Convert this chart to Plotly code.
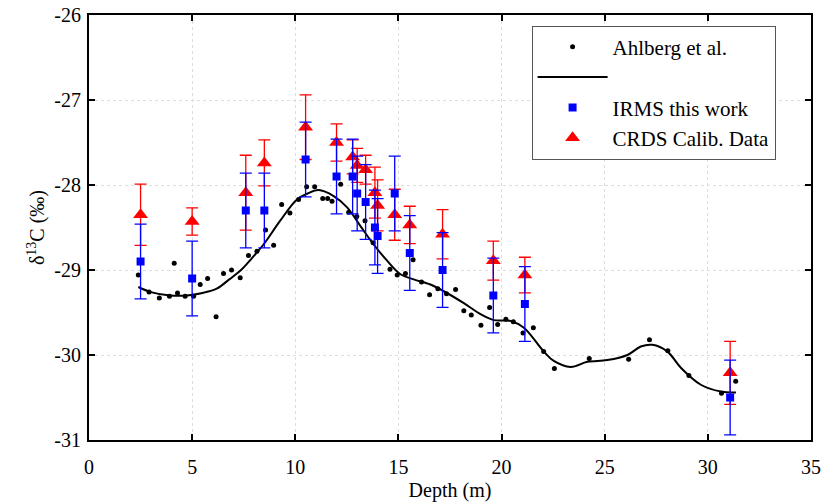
import plotly.graph_objects as go

# Ahlberg et al. data points
ahl_x = [2.39, 2.91, 3.41, 3.90, 4.13, 4.29, 4.66, 5.07, 5.39, 5.75, 6.16, 6.52, 6.91, 7.33, 7.73,
         8.14, 8.56, 8.95, 9.34, 9.74, 10.16, 10.55, 10.94, 11.33, 11.57, 11.78, 12.20, 12.59, 12.98,
         13.38, 13.77, 14.59, 14.94, 15.34, 15.71, 16.12, 16.51, 16.91, 17.33, 17.77, 18.17, 18.53,
         19.00, 19.42, 19.81, 20.21, 20.57, 21.04, 21.54, 22.04, 22.56, 24.25, 26.16, 27.17, 28.06,
         29.08, 30.66, 31.35]
ahl_y = [-29.06, -29.26, -29.33, -29.31, -28.92, -29.27, -29.31, -29.31, -29.17, -29.10, -29.55,
         -29.04, -29.00, -29.09, -28.83, -28.78, -28.53, -28.71, -28.23, -28.33, -28.17, -28.02,
         -28.02, -28.16, -28.16, -28.19, -27.99, -28.32, -28.37, -28.42, -28.68, -28.99, -29.06,
         -29.04, -28.88, -29.14, -29.29, -29.22, -29.28, -29.23, -29.48, -29.53, -29.65, -29.44,
         -29.64, -29.58, -29.61, -29.74, -29.68, -29.96, -30.16, -30.04, -30.05, -29.82, -29.95,
         -30.24, -30.45, -30.31]

# Smooth fit curve
fit_x = [2.39, 3.0, 3.93, 4.74, 5.5, 6.19, 6.8, 7.33, 7.9, 8.46, 9.27, 10.08, 10.6, 11.13, 11.86,
         12.5, 13.15, 13.8, 14.45, 15.1, 15.74, 16.55, 17.2, 18.17, 18.98, 19.63, 20.44, 21.08,
         22.05, 22.53, 23.35, 24.16, 25.13, 26.10, 26.75, 27.31, 28.04, 28.69, 29.66, 30.63, 31.36]
fit_y = [-29.20, -29.26, -29.30, -29.30, -29.27, -29.22, -29.11, -29.01, -28.86, -28.70, -28.42,
         -28.17, -28.10, -28.06, -28.13, -28.26, -28.48, -28.70, -28.89, -29.05, -29.11, -29.17,
         -29.25, -29.39, -29.52, -29.59, -29.60, -29.68, -29.96, -30.07, -30.14, -30.08, -30.06,
         -30.00, -29.90, -29.88, -29.96, -30.15, -30.35, -30.43, -30.44]

# IRMS this work
irms_x = [2.5, 5.0, 7.6, 8.5, 10.5, 12.0, 12.78, 13.0, 13.41, 13.86, 13.99, 14.82, 15.55, 17.14,
          19.6, 21.13, 31.08]
irms_y = [-28.90, -29.10, -28.30, -28.30, -27.70, -27.90, -27.90, -28.10, -28.20, -28.50, -28.60,
          -28.10, -28.80, -29.00, -29.30, -29.40, -30.50]
irms_err = [0.44] * len(irms_x)

# CRDS Calib. Data
crds_x = [2.5, 5.0, 7.6, 8.5, 10.5, 12.0, 12.78, 13.0, 13.41, 13.86, 13.99, 14.82, 15.55, 17.14,
          19.6, 21.13, 31.08]
crds_y = [-28.35, -28.43, -28.09, -27.74, -27.32, -27.50, -27.67, -27.77, -27.82, -28.09, -28.24,
          -28.35, -28.47, -28.58, -28.89, -29.06, -30.21]
crds_err = [0.36, 0.16, 0.44, 0.27, 0.38, 0.22, 0.2, 0.2, 0.17, 0.3, 0.3, 0.3, 0.22, 0.29, 0.23,
            0.21, 0.37]

# Axis ticks
x_ticks = [0, 5, 10, 15, 20, 25, 30, 35]
y_ticks = [-31, -30, -29, -28, -27, -26]
y_ticktext = ["-31", "-30", "-29", "-28", "-27", "-26"]

font = "Liberation Serif"

fig = go.Figure()
fig.add_trace(go.Scatter(x=fit_x, y=fit_y, mode="lines", name="\u00a0",
                         line=dict(color="black", width=2, shape="spline"), legendrank=2))
fig.add_trace(go.Scatter(x=ahl_x, y=ahl_y, mode="markers", name="Ahlberg et al.",
                         marker=dict(color="black", size=5), legendrank=1))
fig.add_trace(go.Scatter(x=crds_x, y=crds_y, mode="markers", name="CRDS Calib. Data",
                         marker=dict(color="red", size=13, symbol="triangle-up"),
                         error_y=dict(type="data", array=crds_err, color="red", thickness=1.3, width=6),
                         legendrank=4))
fig.add_trace(go.Scatter(x=irms_x, y=irms_y, mode="markers", name="IRMS this work",
                         marker=dict(color="blue", size=8, symbol="square"),
                         error_y=dict(type="data", array=irms_err, color="blue", thickness=1.3, width=6),
                         legendrank=3))

axis_common = dict(showline=True, linecolor="black", linewidth=2, mirror="ticks",
                   ticks="inside", ticklen=6, tickwidth=1.5, tickcolor="black",
                   showgrid=True, gridcolor="#dddddd", griddash="dot", gridwidth=1,
                   zeroline=False, automargin=False,
                   tickfont=dict(family=font, size=20, color="black"))

fig.update_xaxes(range=[0, 35], tickvals=x_ticks, ticklabelstandoff=8,
                 title=dict(text="Depth (m)", font=dict(family=font, size=20, color="black"), standoff=6),
                 **axis_common)
fig.update_yaxes(range=[-31, -26], tickvals=y_ticks, ticktext=y_ticktext, ticklabelstandoff=2,
                 title=dict(text="δ<sup>13</sup>C (‰)", font=dict(family=font, size=20, color="black"), standoff=4),
                 **axis_common)

fig.update_layout(
    width=825, height=503,
    margin=dict(l=89, r=14, t=15, b=63),
    plot_bgcolor="white", paper_bgcolor="white",
    font=dict(family=font, size=20, color="black"),
    legend=dict(x=0.613, y=0.975, xanchor="left", yanchor="top",
                bgcolor="white", bordercolor="#555555", borderwidth=1,
                font=dict(family=font, size=21, color="black"), itemwidth=70,
                tracegroupgap=0),
)

fig.write_html("out.html")
